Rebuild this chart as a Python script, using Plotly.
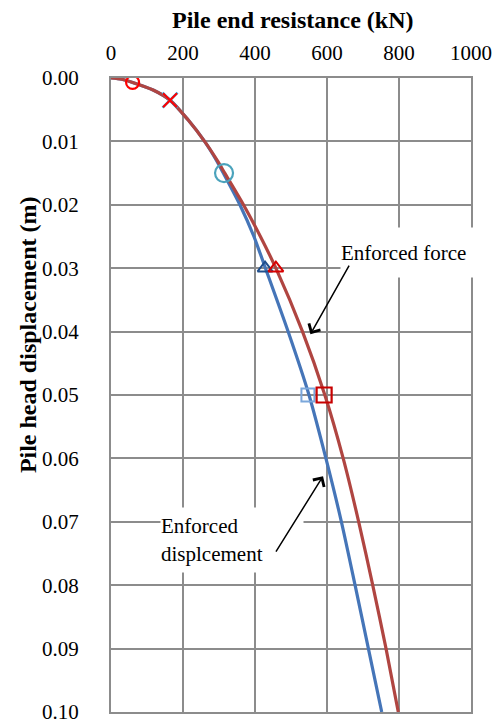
import plotly.graph_objects as go

# ---- data ----
disp = [0, 0.0002, 0.0007, 0.0019, 0.0035, 0.0066, 0.010, 0.013, 0.015, 0.020,
        0.025, 0.030, 0.040, 0.050, 0.060, 0.070, 0.080, 0.090, 0.100]
force_enforced = [0, 30, 60, 117, 164, 214, 260, 295, 316, 368,
                  415, 458, 532, 594, 645, 688, 727, 764, 798]
disp_enforced = [0, 30, 60, 117, 164, 214, 260, 293, 312, 358,
                 397, 429, 492, 550, 597, 640, 678, 715, 752]

# marker points
blue_mk_x = [164, 314, 428, 547]
blue_mk_y = [0.0035, 0.015, 0.030, 0.050]
red_mk_x = [60, 164, 458, 592]
red_mk_y = [0.0007, 0.0035, 0.030, 0.050]

x_ticks = [0, 200, 400, 600, 800, 1000]
y_ticks = [0.00, 0.01, 0.02, 0.03, 0.04, 0.05, 0.06, 0.07, 0.08, 0.09, 0.10]

FONT = "Liberation Serif"
BLUE = "#4575B8"
RED = "#B04541"
GRID = "#8c8c8c"

fig = go.Figure()
fig.add_trace(go.Scatter(x=disp_enforced, y=disp, mode="lines",
                         line=dict(color=BLUE, width=3.2, shape="spline", smoothing=0.8),
                         name="Enforced displacement"))
fig.add_trace(go.Scatter(x=force_enforced, y=disp, mode="lines",
                         line=dict(color=RED, width=3.2, shape="spline", smoothing=0.8),
                         name="Enforced force"))

blue_styles = [("x-thin", "#2FB4E9", 15, 2.6), ("circle-open", "#4BA3BC", 18, 2.2),
               ("triangle-up-open", "#1F4E8C", 13, 2.0), ("square-open", "#7BA7DB", 13, 2.0)]
red_styles = [("circle-open", "#FF0000", 13, 2.2), ("x-thin", "#FF0000", 14, 2.2),
              ("triangle-up-open", "#D80000", 13, 2.0), ("square-open", "#C80000", 15, 2.2)]

for (sym, col, size, lw), xv, yv in zip(blue_styles, blue_mk_x, blue_mk_y):
    fig.add_trace(go.Scatter(x=[xv], y=[yv], mode="markers",
                             marker=dict(symbol=sym, size=size, color=col,
                                         line=dict(color=col, width=lw))))
for (sym, col, size, lw), xv, yv in zip(red_styles, red_mk_x, red_mk_y):
    fig.add_trace(go.Scatter(x=[xv], y=[yv], mode="markers",
                             marker=dict(symbol=sym, size=size, color=col,
                                         line=dict(color=col, width=lw))))

PL, PR, PT, PB = 111, 471, 78, 711.7
W = PR - PL
H = PB - PT

def px(xp):
    return (xp - PL) / W

def py(yp):
    return (PB - yp) / H

annotations = [
    dict(text="<b>Pile end resistance (kN)</b>", xref="paper", yref="paper",
         x=px(293), y=py(20), showarrow=False, font=dict(family=FONT, size=24, color="black"),
         xanchor="center", yanchor="middle"),
    dict(text="<b>Pile head displacement (m)</b>", xref="paper", yref="paper",
         x=px(28), y=py(335), showarrow=False, textangle=-90,
         font=dict(family=FONT, size=24, color="black"), xanchor="center", yanchor="middle"),
    dict(text="Enforced force", xref="paper", yref="paper", x=px(340), y=py(252.5),
         xanchor="left", yanchor="middle", showarrow=False, width=135, height=49,
         align="left", valign="middle", bgcolor="white", borderpad=0,
         font=dict(family=FONT, size=21, color="black")),
    dict(text="Enforced<br>displcement", xref="paper", yref="paper", x=px(160), y=py(540),
         xanchor="left", yanchor="middle", showarrow=False, width=142, height=64,
         align="left", valign="middle", bgcolor="white", borderpad=0,
         font=dict(family=FONT, size=21, color="black")),
    dict(text="", x=554, y=0.0404, xref="x", yref="y", showarrow=True,
         ax=39.5, ay=-70, arrowhead=4, arrowsize=1.7, arrowwidth=1.5, arrowcolor="black"),
    dict(text="", x=589, y=0.0628, xref="x", yref="y", showarrow=True,
         ax=-48, ay=77, arrowhead=4, arrowsize=1.7, arrowwidth=1.5, arrowcolor="black"),
]

fig.update_layout(
    template="none",
    width=496, height=726,
    margin=dict(l=PL, r=496 - PR, t=PT, b=726 - PB, pad=0),
    paper_bgcolor="white", plot_bgcolor="white",
    showlegend=False,
    font=dict(family=FONT, size=21, color="black"),
    annotations=annotations,
    xaxis=dict(side="top", range=[0, 1000], tickvals=x_ticks,
               ticktext=[str(v) for v in x_ticks], automargin=False,
               showgrid=True, gridcolor=GRID, gridwidth=2,
               showline=True, linecolor=GRID, linewidth=2, mirror=True,
               zeroline=False, ticks="", ticklabelstandoff=8,
               tickfont=dict(family=FONT, size=21, color="black")),
    yaxis=dict(range=[0.10, 0.0], tickvals=y_ticks,
               ticktext=[f"{v:.2f}" for v in y_ticks], automargin=False,
               showgrid=True, gridcolor=GRID, gridwidth=2,
               showline=True, linecolor=GRID, linewidth=2, mirror=True,
               zeroline=False, ticks="", ticklabelstandoff=26,
               tickfont=dict(family=FONT, size=21, color="black")),
)

fig.write_html("out.html")
